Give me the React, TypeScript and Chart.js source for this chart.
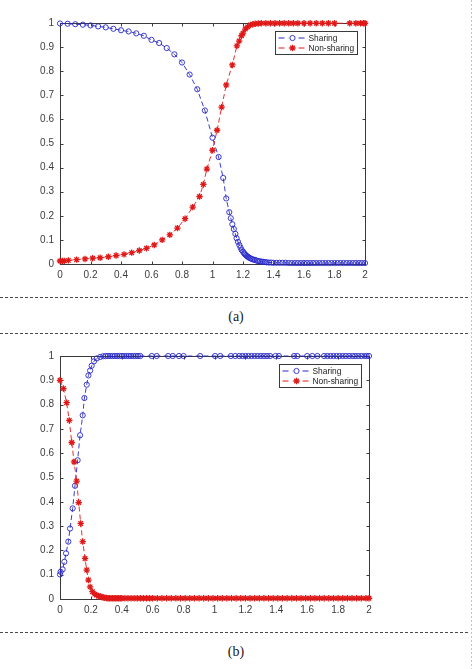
import React, { useEffect, useRef } from "react";
import { Chart, registerables } from "chart.js";

Chart.register(...registerables);

// ---- panel (a) ----
const xShareA = [
  0, 0.05, 0.1, 0.15, 0.2, 0.25, 0.3, 0.35, 0.4, 0.45, 0.5, 0.55, 0.6, 0.65, 0.7, 0.75, 0.8, 0.85, 0.9, 0.95, 1.0,
  1.04, 1.07, 1.09, 1.11, 1.12, 1.13, 1.14, 1.15, 1.158, 1.167, 1.176, 1.184, 1.191,
  1.2, 1.207, 1.213, 1.22, 1.227, 1.234, 1.241, 1.25, 1.26, 1.27, 1.279, 1.29, 1.3,
  1.311, 1.322, 1.333, 1.344, 1.355, 1.37, 1.385, 1.4,
  1.42, 1.44, 1.46, 1.48, 1.5, 1.52, 1.54, 1.56, 1.58, 1.6, 1.62, 1.64, 1.66, 1.68, 1.7,
  1.72, 1.74, 1.76, 1.78, 1.8, 1.82, 1.84, 1.86, 1.88, 1.9, 1.92, 1.94, 1.96, 1.98, 2.0,
];
const shareA = [
  0.998, 0.997, 0.995, 0.993, 0.99, 0.986, 0.982, 0.976, 0.97, 0.965, 0.957, 0.947, 0.93, 0.917, 0.896, 0.87, 0.836, 0.786, 0.725, 0.637, 0.524,
  0.444, 0.357, 0.272, 0.215, 0.19, 0.165, 0.145, 0.125, 0.107, 0.092, 0.079, 0.068, 0.058,
  0.051, 0.045, 0.04, 0.036, 0.032, 0.029, 0.026, 0.023, 0.02, 0.018, 0.017, 0.014, 0.012,
  0.011, 0.01, 0.009, 0.008, 0.007, 0.006, 0.006, 0.005,
  0.005, 0.005, 0.005, 0.005, 0.004, 0.004, 0.004, 0.004, 0.004, 0.004, 0.004, 0.004, 0.004, 0.004, 0.004,
  0.004, 0.004, 0.004, 0.004, 0.004, 0.004, 0.004, 0.004, 0.004, 0.004, 0.004, 0.004, 0.004, 0.004, 0.004,
];
const xNonA = [
  0, 0.015, 0.028, 0.055, 0.109, 0.164, 0.214, 0.263, 0.317, 0.368, 0.42, 0.47, 0.52, 0.567, 0.618, 0.67, 0.72, 0.77, 0.82, 0.87, 0.915, 0.94, 0.963,
  1.0, 1.03, 1.06, 1.09, 1.13, 1.16,
  1.175, 1.19, 1.2, 1.215, 1.23, 1.248, 1.265, 1.28, 1.3,
  1.32, 1.35, 1.38, 1.41, 1.44, 1.47, 1.5, 1.53, 1.56, 1.6, 1.64, 1.68, 1.72, 1.76, 1.8,
  1.9, 1.94, 1.97, 1.99, 2.0,
];
const nonA = [
  0.0125, 0.0125, 0.013, 0.015, 0.018, 0.021, 0.024, 0.026, 0.03, 0.035, 0.04, 0.047, 0.056, 0.065, 0.079, 0.1, 0.121, 0.149, 0.188, 0.236, 0.28, 0.33, 0.394,
  0.472, 0.555, 0.651, 0.743, 0.826, 0.905,
  0.925, 0.947, 0.958, 0.975, 0.984, 0.992, 0.995, 0.997, 0.998,
  0.999, 0.999, 0.999, 0.999, 0.999, 0.999, 0.999, 0.999, 0.999, 0.999, 0.999, 0.999, 0.999, 0.999, 0.999,
  0.999, 0.999, 0.999, 0.999, 0.999,
];

// ---- panel (b) ----
const xShareB = [
  0, 0.004, 0.017, 0.028, 0.039, 0.054, 0.065, 0.082, 0.097, 0.114, 0.13, 0.147, 0.158, 0.173, 0.184, 0.195, 0.205, 0.22, 0.238, 0.26, 0.28,
  0.295, 0.31, 0.325, 0.34, 0.355, 0.37, 0.385, 0.4, 0.415, 0.43, 0.445, 0.46, 0.475, 0.49, 0.505, 0.52,
  0.594, 0.626, 0.7, 0.73, 0.77, 0.8, 0.907, 1.004, 1.037, 1.106, 1.134,
  1.16, 1.18, 1.2, 1.22, 1.24, 1.26, 1.28, 1.3, 1.32, 1.34, 1.36,
  1.395, 1.417, 1.515, 1.536, 1.6, 1.633, 1.666,
  1.709, 1.73, 1.75, 1.77, 1.79, 1.81, 1.83, 1.85, 1.871,
  1.892, 1.91, 1.93, 1.95, 1.97, 1.985, 2.0,
];
const shareB = [
  0.101, 0.112, 0.122, 0.153, 0.188, 0.236, 0.29, 0.373, 0.466, 0.571, 0.674, 0.756, 0.827, 0.882, 0.92, 0.94, 0.96, 0.978, 0.99, 0.996, 0.999,
  1, 1, 1, 1, 1, 1, 1, 1, 1, 1, 1, 1, 1, 1, 1, 1,
  1, 1, 1, 1, 1, 1, 1, 1, 1, 1, 1,
  1, 1, 1, 1, 1, 1, 1, 1, 1, 1, 1,
  1, 1, 1, 1, 1, 1, 1,
  1, 1, 1, 1, 1, 1, 1, 1, 1,
  1, 1, 1, 1, 1, 1, 1,
];
const xNonB = [
  0, 0.022, 0.043, 0.06, 0.076, 0.091, 0.108, 0.121, 0.134, 0.147, 0.162, 0.173, 0.184, 0.195, 0.21, 0.225, 0.238,
  0.25, 0.26, 0.27, 0.28, 0.29, 0.3, 0.31, 0.32, 0.33, 0.34, 0.35, 0.36, 0.37, 0.38, 0.39, 0.4,
  0.42, 0.44, 0.46, 0.48, 0.5, 0.52, 0.54, 0.56, 0.58, 0.6,
  0.63, 0.66, 0.69, 0.72, 0.75, 0.78, 0.81, 0.84, 0.87, 0.9, 0.93, 0.96, 0.99, 1.02, 1.05, 1.08,
  1.11, 1.14, 1.17, 1.2, 1.23, 1.26, 1.29, 1.32, 1.35, 1.38, 1.41, 1.44, 1.47, 1.5, 1.53, 1.56,
  1.59, 1.62, 1.65, 1.68, 1.71, 1.74, 1.77, 1.8, 1.83, 1.86, 1.89, 1.92, 1.95, 1.98, 2.0,
];
const nonB = [
  0.9, 0.866, 0.808, 0.735, 0.644, 0.564, 0.485, 0.397, 0.311, 0.236, 0.167, 0.119, 0.078, 0.05, 0.03, 0.02, 0.016,
  0.012, 0.01, 0.008, 0.006, 0.005, 0.004, 0.003, 0.003, 0.003, 0.003, 0.003, 0.003, 0.003, 0.003, 0.003, 0.003,
  0.003, 0.003, 0.003, 0.003, 0.003, 0.003, 0.003, 0.003, 0.003, 0.003,
  0.003, 0.003, 0.003, 0.003, 0.003, 0.003, 0.003, 0.003, 0.003, 0.003, 0.003, 0.003, 0.003, 0.003, 0.003, 0.003,
  0.003, 0.003, 0.003, 0.003, 0.003, 0.003, 0.003, 0.003, 0.003, 0.003, 0.003, 0.003, 0.003, 0.003, 0.003, 0.003,
  0.003, 0.003, 0.003, 0.003, 0.003, 0.003, 0.003, 0.003, 0.003, 0.003, 0.003, 0.003, 0.003, 0.003, 0.003,
];

const seriesLabels = ["Sharing", "Non-sharing"];

const BLUE = "#2727c8";
const RED = "#e01818";
const AXIS = "#3a3a3a";
const TICK_FONT = "'Liberation Sans', Arial, sans-serif";

// box around the axes with inward ticks, matlab style
const matlabFrame = {
  id: "matlabFrame",
  beforeDatasetsDraw(chart: any) {
    const { ctx, chartArea: a, scales } = chart;
    const tl = 3;
    ctx.save();
    ctx.strokeStyle = AXIS;
    ctx.lineWidth = 1;
    const l = Math.round(a.left) + 0.5;
    const r = Math.round(a.right) + 0.5;
    const t = Math.round(a.top) + 0.5;
    const b = Math.round(a.bottom) + 0.5;
    ctx.strokeRect(l, t, r - l, b - t);
    ctx.beginPath();
    scales.x.ticks.forEach((tk: any) => {
      const px = Math.round(scales.x.getPixelForValue(tk.value)) + 0.5;
      ctx.moveTo(px, b);
      ctx.lineTo(px, b - tl);
      ctx.moveTo(px, t);
      ctx.lineTo(px, t + tl);
    });
    scales.y.ticks.forEach((tk: any) => {
      const py = Math.round(scales.y.getPixelForValue(tk.value)) + 0.5;
      ctx.moveTo(l, py);
      ctx.lineTo(l + tl, py);
      ctx.moveTo(r, py);
      ctx.lineTo(r - tl, py);
    });
    ctx.stroke();
    ctx.restore();
  },
};

function drawMarker(ctx: CanvasRenderingContext2D, style: string, x: number, y: number, r: number) {
  ctx.beginPath();
  if (style === "circle") {
    ctx.arc(x, y, r, 0, Math.PI * 2);
  } else {
    for (let k = 0; k < 4; k++) {
      const ang = (k * Math.PI) / 4;
      ctx.moveTo(x - r * Math.cos(ang), y - r * Math.sin(ang));
      ctx.lineTo(x + r * Math.cos(ang), y + r * Math.sin(ang));
    }
  }
  ctx.stroke();
}

// legend box in the upper right corner of the axes
const boxLegend = {
  id: "boxLegend",
  afterDraw(chart: any) {
    const { ctx, chartArea: a } = chart;
    const w = 82;
    const h = 23;
    const left = Math.round(a.right - 8 - w) + 0.5;
    const top = Math.round(a.top + 8) + 0.5;
    ctx.save();
    ctx.fillStyle = "#ffffff";
    ctx.fillRect(left, top, w, h);
    ctx.strokeStyle = AXIS;
    ctx.lineWidth = 1;
    ctx.strokeRect(left, top, w, h);
    chart.data.datasets.forEach((ds: any, i: number) => {
      const y = top + 6.5 + i * 10;
      ctx.strokeStyle = ds.borderColor;
      ctx.lineWidth = 1;
      ctx.setLineDash([6, 4]);
      ctx.beginPath();
      ctx.moveTo(left + 3, y);
      ctx.lineTo(left + 31, y);
      ctx.stroke();
      ctx.setLineDash([]);
      ctx.fillStyle = "#fff";
      ctx.fillRect(left + 13, y - 4, 8, 8);
      ctx.lineWidth = ds.pointBorderWidth;
      drawMarker(ctx, ds.pointStyle, left + 17, y, ds.pointRadius);
      ctx.fillStyle = "#222";
      ctx.font = `8.4px ${TICK_FONT}`;
      ctx.textBaseline = "middle";
      ctx.fillText(ds.label, left + 33, y + 0.5);
    });
    ctx.restore();
  },
};

type PanelProps = {
  top: number;
  xShare: number[];
  share: number[];
  xNon: number[];
  non: number[];
  padTop: number;
  padRight: number;
  xAxisHeight: number;
};

const PANEL_W = 400;
const PANEL_H = 290;

function Panel(props: PanelProps) {
  const chartRef = useRef<HTMLCanvasElement | null>(null);
  const chartInstance = useRef<Chart | null>(null);

  useEffect(() => {
    if (!chartRef.current) return;
    const ctx = chartRef.current.getContext("2d");
    if (!ctx) return;
    if (chartInstance.current) chartInstance.current.destroy();

    chartInstance.current = new Chart(ctx, {
      type: "line",
      data: {
        datasets: [
          {
            label: seriesLabels[0],
            data: props.xShare.map((x, i) => ({ x, y: props.share[i] })),
            borderColor: BLUE,
            borderWidth: 0.9,
            borderDash: [5, 3],
            pointStyle: "circle",
            pointRadius: 2.6,
            pointBorderWidth: 0.9,
            pointBorderColor: BLUE,
            pointBackgroundColor: "rgba(0,0,0,0)",
            tension: 0,
            fill: false,
            clip: false,
            order: 1,
          },
          {
            label: seriesLabels[1],
            data: props.xNon.map((x, i) => ({ x, y: props.non[i] })),
            borderColor: RED,
            borderWidth: 0.9,
            borderDash: [5, 3],
            pointStyle: "star",
            pointRadius: 3.2,
            pointBorderWidth: 1.3,
            pointBorderColor: RED,
            pointBackgroundColor: RED,
            tension: 0,
            fill: false,
            clip: false,
            order: 0,
          },
        ],
      },
      options: {
        responsive: false,
        animation: false,
        layout: { padding: { top: props.padTop, right: props.padRight, left: 0, bottom: 0 } },
        plugins: { legend: { display: false }, tooltip: { enabled: false } },
        scales: {
          x: {
            type: "linear",
            min: 0,
            max: 2,
            grid: { display: false, drawTicks: false },
            border: { display: false },
            ticks: {
              stepSize: 0.2,
              padding: 5,
              color: "#3c3c3c",
              font: { family: TICK_FONT, size: 10 },
              maxRotation: 0,
              callback: (v: any) => String(Math.round(Number(v) * 10) / 10),
            },
            afterFit: (scale: any) => {
              scale.height = props.xAxisHeight;
            },
          },
          y: {
            type: "linear",
            min: 0,
            max: 1,
            grid: { display: false, drawTicks: false },
            border: { display: false },
            ticks: {
              stepSize: 0.1,
              padding: 6,
              color: "#3c3c3c",
              font: { family: TICK_FONT, size: 10 },
              callback: (v: any) => String(Math.round(Number(v) * 10) / 10),
            },
            afterFit: (scale: any) => {
              scale.width = 60;
            },
          },
        },
      },
      plugins: [matlabFrame, boxLegend],
    } as any);

    return () => {
      if (chartInstance.current) {
        chartInstance.current.destroy();
        chartInstance.current = null;
      }
    };
  }, []);

  return (
    <canvas
      ref={chartRef}
      width={PANEL_W}
      height={PANEL_H}
      style={{ position: "absolute", left: 0, top: props.top, width: PANEL_W, height: PANEL_H }}
    />
  );
}

const dashedRule = (top: number): React.CSSProperties => ({
  position: "absolute",
  left: 0,
  top,
  width: 470,
  height: 1,
  background: "repeating-linear-gradient(to right, #4a4a4a 0 3px, transparent 3px 5px)",
});

const caption = (top: number): React.CSSProperties => ({
  position: "absolute",
  left: 0,
  top,
  width: 472,
  textAlign: "center",
  fontFamily: "'Liberation Serif', 'Times New Roman', serif",
  fontSize: 14,
  lineHeight: "18px",
  color: "#1a1a1a",
});

export default function App() {
  return (
    <div
      style={{
        position: "fixed",
        left: 0,
        top: 0,
        width: 474,
        height: 669,
        background: "#ffffff",
        overflow: "hidden",
      }}
    >
      <Panel top={0} xShare={xShareA} share={shareA} xNon={xNonA} non={nonA} padTop={23} padRight={35} xAxisHeight={26} />
      <div style={dashedRule(297)} />
      <div style={caption(308)}>(a)</div>
      <div style={dashedRule(333)} />
      <Panel top={333} xShare={xShareB} share={shareB} xNon={xNonB} non={nonB} padTop={23} padRight={31} xAxisHeight={24} />
      <div style={dashedRule(632)} />
      <div style={caption(643)}>(b)</div>
      <div
        style={{
          position: "absolute",
          left: 471,
          top: 0,
          width: 1,
          height: 669,
          background: "repeating-linear-gradient(to bottom, #c4c4c4 0 2px, transparent 2px 4px)",
        }}
      />
    </div>
  );
}
